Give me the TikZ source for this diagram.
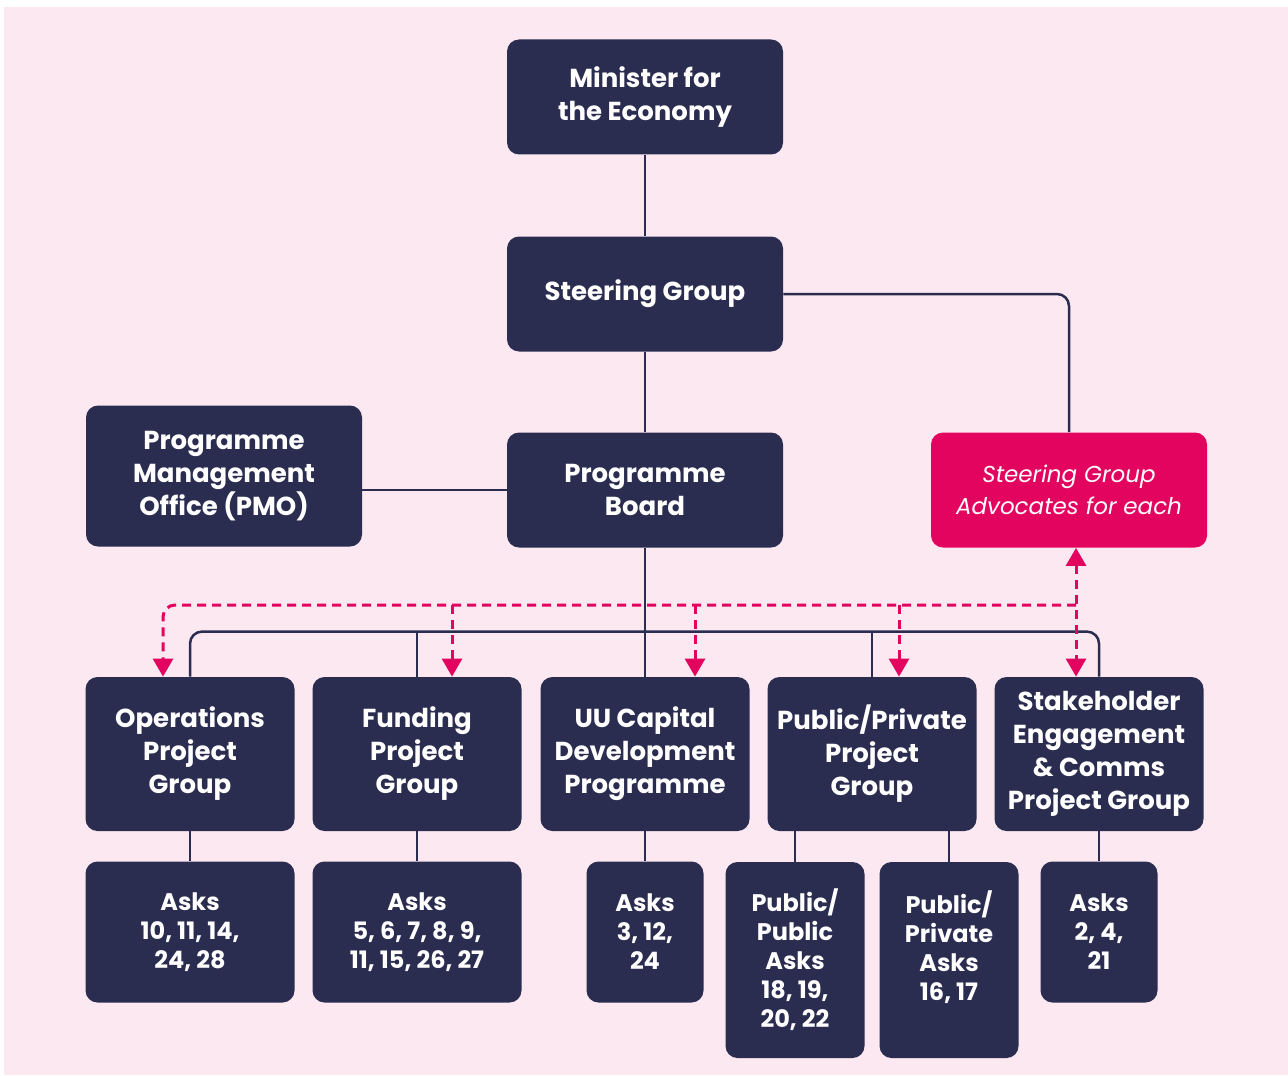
\documentclass[tikz,border=0pt]{standalone}
\usepackage{fontspec}
\setmainfont{Poppins}
\usepackage{tikz}
\usetikzlibrary{arrows.meta}
\usetikzlibrary{positioning}

\definecolor{navy}{HTML}{2B2D50}
\definecolor{magenta}{HTML}{E2045F}
\definecolor{blush}{HTML}{FCE8F0}

\begin{document}
\begin{tikzpicture}[x=0.5pt, y=-0.5pt,
                          bigbox/.style={rectangle, rounded corners=6pt, fill=navy, text=white, align=center, font=\bfseries\fontsize{13}{16.5}\selectfont, minimum width=138pt, minimum height=57.5pt, inner sep=2pt},
                          groupbox/.style={bigbox, minimum width=104.5pt, minimum height=77pt},
                          askbox/.style={rectangle, rounded corners=6pt, fill=navy, text=white, align=center, font=\bfseries\fontsize{12}{14.5}\selectfont, minimum height=70.5pt, inner sep=2pt},
                          advbox/.style={bigbox, fill=magenta, font=\itshape\fontsize{11.5}{16}\selectfont},
                          link/.style={draw=navy, line width=1.25pt},
                          dashline/.style={draw=magenta, line width=1.5pt, dash pattern=on 4.5pt off 3pt},
                          tip/.style={-{Triangle[width=10pt, length=9pt]}},
                      ]
                      \useasboundingbox (0,0) rectangle (1288,1075);
                      \fill[blush] (4,7) rectangle (1288,1075);

                      % Nodes
                      \node[bigbox]        (minister)     at (645,97)        {Minister for\\the Economy};
                      \node[bigbox]        (steering)     at (645,294)       {Steering Group};
                      \node[bigbox]        (board)        at (645,490)       {Programme\\Board};
                      \node[bigbox, minimum height=70.5pt]  (pmo)  at (224,476)  {Programme\\Management\\Office (PMO)};
                      \node[advbox]        (advocates)    at (1069,490)      {Steering Group\\Advocates for each};

                      \node[groupbox]      (operations)   at (190,754)       {Operations\\Project\\Group};
                      \node[groupbox]      (funding)      at (417,754)       {Funding\\Project\\Group};
                      \node[groupbox]      (capital)      at (645,754)       {UU Capital\\Development\\Programme};
                      \node[groupbox]      (pubpriv)      at (872,754)       {Public/Private\\Project\\Group};
                      \node[groupbox]      (stakeholder)  at (1099,754)      {Stakeholder\\Engagement\\\& Comms\\Project Group};

                      \node[askbox, minimum width=104.5pt]  (operations_asks)  at (190,932)  {Asks\\10, 11, 14,\\24, 28};
                      \node[askbox, minimum width=104.5pt]  (funding_asks)     at (417,932)  {Asks\\5, 6, 7, 8, 9,\\11, 15, 26, 27};
                      \node[askbox, minimum width=58.5pt]   (capital_asks)     at (645,932)  {Asks\\3, 12,\\24};
                      \node[askbox, minimum width=69.5pt, minimum height=98pt]  (public_asks)   at (795,960)  {Public/\\Public\\Asks\\18, 19,\\20, 22};
                      \node[askbox, minimum width=69.5pt, minimum height=98pt]  (private_asks)  at (949,960)  {Public/\\Private\\Asks\\16, 17\\\vphantom{0}};
                      \node[askbox, minimum width=58.5pt]   (stakeholder_asks) at (1099,932) {Asks\\2, 4,\\21};

                      %Lines
                      \draw[link] (minister) -- (steering);
                      \draw[link] (steering) -- (board);
                      \draw[link] (board.west) -- (board.west -| pmo.east);
                      \draw[link, rounded corners=6pt] (steering.east) -| (advocates.north);
                      \draw[link] (board.south) -- (capital.north);
                      \draw[link, rounded corners=6pt] (operations.north) -- ++(0,-45) -| (stakeholder.north);
                      \draw[link] (funding.north) -- ++(0,-45);
                      \draw[link] (pubpriv.north) -- ++(0,-45);

                      \draw[link] (operations) -- (operations_asks);
                      \draw[link] (funding) -- (funding_asks);
                      \draw[link] (capital) -- (capital_asks);
                      \draw[link] (public_asks.north |- pubpriv.south) -- (public_asks.north);
                      \draw[link] (private_asks.north |- pubpriv.south) -- (private_asks.north);
                      \draw[link] (stakeholder) -- (stakeholder_asks);

                      %Dashed links
                      \coordinate (hub) at (1076,605);
                      \draw[dashline, tip, rounded corners=6pt] (hub) -| (163,605 |- operations.north);
                      \draw[dashline, tip] (452,605) -- (452,605 |- funding.north);
                      \draw[dashline, tip] (695,605) -- (695,605 |- capital.north);
                      \draw[dashline, tip] (899,605) -- (899,605 |- pubpriv.north);
                      \draw[dashline, {Triangle[width=10pt, length=9pt]}-{Triangle[width=10pt, length=9pt]}] (hub |- advocates.south) -- (hub |- stakeholder.north);
                  \end{tikzpicture}
\end{document}
